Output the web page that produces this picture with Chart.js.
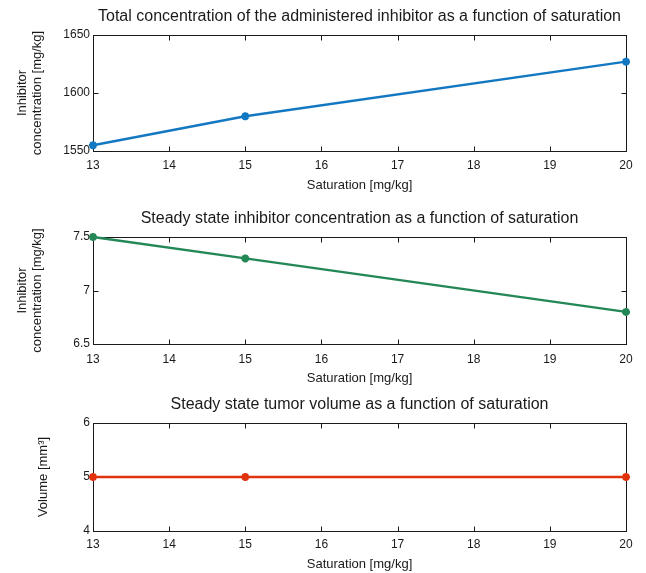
<!DOCTYPE html>
<html><head><meta charset="utf-8">
<script src="https://cdn.jsdelivr.net/npm/chart.js@4"></script>
<style>
html,body{margin:0;padding:0;background:#fff;}
#wrap{position:relative;width:646px;height:573px;overflow:hidden;}
canvas{position:absolute;left:0;}
</style></head><body>
<div id="wrap">
<canvas id="c1" width="646" height="200" style="top:0px"></canvas>
<canvas id="c2" width="646" height="190" style="top:200px"></canvas>
<canvas id="c3" width="646" height="183" style="top:390px"></canvas>
</div>
<script>
const saturation = [13, 15, 20];
const totalInhibitor = [1555, 1580, 1627];
const steadyInhibitor = [7.5, 7.3, 6.8];
const tumorVolume = [5, 5, 5];
const xTicks = [13, 14, 15, 16, 17, 18, 19, 20];
const yTicksTotal = [1550, 1600, 1650];
const yTicksSteady = [6.5, 7, 7.5];
const yTicksVolume = [4, 5, 6];

const FONT = "'Liberation Sans', Arial, Helvetica, sans-serif";
const INK = '#1a1a1a';
const AXIS_LEFT = 93, AXIS_RIGHT_PAD = 20;
const TICK_FS = 12, TITLE_FS = 16, LABEL_FS = 13;

const boxPlugin = {
  id: 'matlabBox',
  afterLayout(chart) {
    const tb = chart.titleBlock, a = chart.chartArea;
    if (tb) { tb.left = a.left; tb.right = a.right; tb.width = a.right - a.left; }
  },
  beforeDatasetsDraw(chart) {
    const {ctx, chartArea: a, scales} = chart;
    ctx.save();
    ctx.strokeStyle = INK; ctx.lineWidth = 1;
    const l = Math.round(a.left) + 0.5, t = Math.round(a.top) + 0.5;
    const r = Math.round(a.right) + 0.5, b = Math.round(a.bottom) + 0.5;
    ctx.strokeRect(l, t, r - l, b - t);
    const L = 5;
    ctx.beginPath();
    scales.x.ticks.forEach(tk => {
      const px = Math.round(scales.x.getPixelForValue(tk.value)) + 0.5;
      ctx.moveTo(px, b); ctx.lineTo(px, b - L);
      ctx.moveTo(px, t); ctx.lineTo(px, t + L);
    });
    scales.y.ticks.forEach(tk => {
      const py = Math.round(scales.y.getPixelForValue(tk.value)) + 0.5;
      ctx.moveTo(l, py); ctx.lineTo(l + L, py);
      ctx.moveTo(r, py); ctx.lineTo(r - L, py);
    });
    ctx.stroke();
    ctx.restore();
  }
};

function makeChart(id, values, color, yTicks, title, yTitle, g) {
  const titleLH = TITLE_FS * 1.2;
  const titlePadTop = g.titleC - titleLH / 2;
  const titlePadBottom = g.plotTop - titlePadTop - titleLH;
  const tickLH = TICK_FS * 1.2;
  const labLH = LABEL_FS * 1.2;
  const xAxisH = g.h - g.plotBottom;
  new Chart(document.getElementById(id), {
    type: 'line',
    data: {
      datasets: [{
        data: saturation.map((x, i) => ({x: x, y: values[i]})),
        borderColor: color,
        backgroundColor: color,
        borderWidth: 2.4,
        pointStyle: 'star',
        pointRadius: 4,
        pointBorderWidth: 2.5,
        pointBorderColor: color,
        tension: 0,
        clip: false
      }]
    },
    options: {
      responsive: false,
      animation: false,
      layout: {padding: {left: 0, right: AXIS_RIGHT_PAD, top: 0, bottom: 0}},
      plugins: {
        legend: {display: false},
        tooltip: {enabled: false},
        title: {
          display: true, text: title, color: INK,
          font: {family: FONT, size: TITLE_FS, weight: 'normal', lineHeight: 1.2},
          padding: {top: titlePadTop, bottom: titlePadBottom}
        }
      },
      scales: {
        x: {
          type: 'linear', min: 13, max: 20,
          grid: {display: false, drawTicks: false},
          border: {display: false},
          afterBuildTicks: ax => { ax.ticks = xTicks.map(v => ({value: v})); },
          afterFit: ax => { ax.height = xAxisH; },
          ticks: {
            color: INK, maxRotation: 0, autoSkip: false,
            padding: g.tickC - tickLH / 2,
            font: {family: FONT, size: TICK_FS, lineHeight: 1.2},
            callback: v => String(v)
          },
          title: {
            display: true, text: 'Saturation [mg/kg]', color: INK,
            font: {family: FONT, size: LABEL_FS, lineHeight: 1.2},
            padding: {top: 0, bottom: xAxisH - g.xTitleC - labLH / 2}
          }
        },
        y: {
          type: 'linear', min: yTicks[0], max: yTicks[yTicks.length - 1],
          grid: {display: false, drawTicks: false},
          border: {display: false},
          afterBuildTicks: ax => { ax.ticks = yTicks.map(v => ({value: v})); },
          afterFit: ax => { ax.width = AXIS_LEFT; },
          ticks: {
            color: INK, padding: 3,
            font: {family: FONT, size: TICK_FS, lineHeight: 1.2},
            callback: v => String(v)
          },
          title: {
            display: true, text: yTitle, color: INK,
            font: {family: FONT, size: LABEL_FS, lineHeight: 1.15},
            padding: {top: g.yTitleC - LABEL_FS * 1.15 / 2, bottom: 0}
          }
        }
      }
    },
    plugins: [boxPlugin]
  });
}

makeChart('c1', totalInhibitor, '#1378c2', yTicksTotal,
  'Total concentration of the administered inhibitor as a function of saturation',
  ['Inhibitor', 'concentration [mg/kg]'],
  {h: 200, plotTop: 35, plotBottom: 151, titleC: 17, tickC: 15, xTitleC: 34, yTitleC: 22});

makeChart('c2', steadyInhibitor, '#248756', yTicksSteady,
  'Steady state inhibitor concentration as a function of saturation',
  ['Inhibitor', 'concentration [mg/kg]'],
  {h: 190, plotTop: 37, plotBottom: 144, titleC: 19, tickC: 16, xTitleC: 34, yTitleC: 22});

makeChart('c3', tumorVolume, '#e0320c', yTicksVolume,
  'Steady state tumor volume as a function of saturation',
  'Volume [mm³]',
  {h: 183, plotTop: 33, plotBottom: 141, titleC: 15, tickC: 14, xTitleC: 33, yTitleC: 43});
</script>
</body></html>
